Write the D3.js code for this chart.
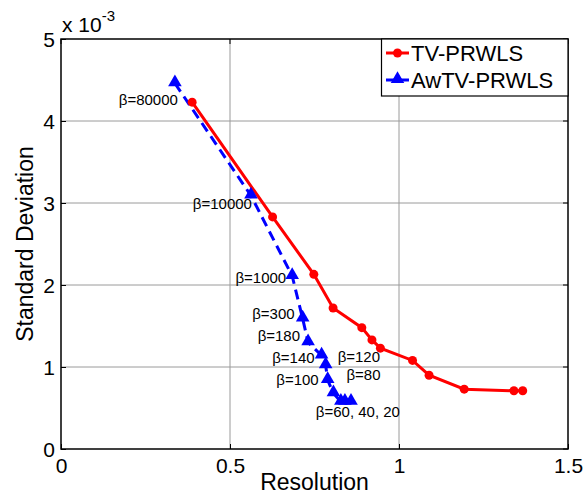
<!DOCTYPE html>
<html>
<head>
<meta charset="utf-8">
<script src="https://cdn.jsdelivr.net/npm/d3@7"></script>
<style>
  body { margin: 0; background: #fff; }
  svg { font-family: "Liberation Sans", Arial, Helvetica, sans-serif; }
</style>
</head>
<body>
<div id="vis-container"></div>
<script>
// width and height
const w = 584
const h = 498
const margin = { top: 39, right: 16, bottom: 49, left: 61 };

// data (std values are in units of 1e-3)
const resTV = [0.388, 0.626, 0.748, 0.805, 0.890, 0.920, 0.945, 1.040, 1.089, 1.193, 1.340, 1.366];
const stdTV = [4.23, 2.83, 2.13, 1.72, 1.48, 1.33, 1.23, 1.08, 0.90, 0.73, 0.71, 0.71];
const resAwTV = [0.337, 0.562, 0.684, 0.715, 0.731, 0.771, 0.783, 0.789, 0.806, 0.828, 0.840, 0.858];
const stdAwTV = [4.46, 3.09, 2.11, 1.59, 1.30, 1.14, 1.02, 0.84, 0.68, 0.575, 0.575, 0.575];
const seriesNames = ["TV-PRWLS", "AwTV-PRWLS"];
const xTicks = [0, 0.5, 1, 1.5];
const yTicks = [0, 1, 2, 3, 4, 5];
// beta labels, attached to AwTV points (index into the arrays)
const betaLabels = ["β=80000", "β=10000", "β=1000", "β=300", "β=180", "β=140", "β=120", "β=100", "β=80", "β=60, 40, 20"];
const betaIndex = [0, 1, 2, 3, 4, 5, 6, 7, 8, 10];

const svg = d3.select("#vis-container")
    .append("svg")
    .attr("width", w)
    .attr("height", h);

const xScale = d3.scaleLinear().domain([0, 1.5]).range([margin.left, w - margin.right]);
const yScale = d3.scaleLinear().domain([0, 5]).range([h - margin.bottom, margin.top]);

// grid lines
svg.append("g").selectAll("line.gx")
    .data(xTicks.slice(1, -1))
    .enter().append("line")
    .attr("x1", d => xScale(d)).attr("x2", d => xScale(d))
    .attr("y1", yScale(0)).attr("y2", yScale(5))
    .attr("stroke", "#9a9a9a").attr("stroke-width", 1);
svg.append("g").selectAll("line.gy")
    .data(yTicks.slice(1, -1))
    .enter().append("line")
    .attr("x1", xScale(0)).attr("x2", xScale(1.5))
    .attr("y1", d => yScale(d)).attr("y2", d => yScale(d))
    .attr("stroke", "#9a9a9a").attr("stroke-width", 1);

// axes (ticks inward, like matlab)
const xAxis = d3.axisBottom(xScale).tickValues(xTicks).tickSizeInner(-5).tickSizeOuter(0).tickPadding(9).tickFormat(d3.format("~g"));
const yAxis = d3.axisLeft(yScale).tickValues(yTicks).tickSizeInner(-5).tickSizeOuter(0).tickPadding(6).tickFormat(d3.format("d"));

const gx = svg.append("g")
    .attr("transform", "translate(0," + yScale(0) + ")")
    .call(xAxis);
const gy = svg.append("g")
    .attr("transform", "translate(" + xScale(0) + ",0)")
    .call(yAxis);
[gx, gy].forEach(g => {
    g.select(".domain").remove();
    g.selectAll("line").attr("stroke", "#000");
    g.selectAll("text").style("font-size", "21px").attr("fill", "#000");
});
gy.selectAll("text").attr("dy", "0.36em");

// top and right ticks
svg.append("g").selectAll("line")
    .data(xTicks).enter().append("line")
    .attr("x1", d => xScale(d)).attr("x2", d => xScale(d))
    .attr("y1", yScale(5)).attr("y2", yScale(5) + 5)
    .attr("stroke", "#000");
svg.append("g").selectAll("line")
    .data(yTicks).enter().append("line")
    .attr("x1", xScale(1.5)).attr("x2", xScale(1.5) - 5)
    .attr("y1", d => yScale(d)).attr("y2", d => yScale(d))
    .attr("stroke", "#000");

// frame
svg.append("rect")
    .attr("x", xScale(0)).attr("y", yScale(5))
    .attr("width", xScale(1.5) - xScale(0))
    .attr("height", yScale(0) - yScale(5))
    .attr("fill", "none").attr("stroke", "#000").attr("stroke-width", 1.5);

// exponent label
const expo = svg.append("text")
    .attr("x", xScale(0) + 1).attr("y", 32)
    .style("font-size", "21px");
expo.append("tspan").text("x 10");
expo.append("tspan").attr("dy", -11).style("font-size", "15px").text("-3");

// axis titles
svg.append("text")
    .attr("x", (xScale(0) + xScale(1.5)) / 2)
    .attr("y", 490)
    .style("text-anchor", "middle")
    .style("font-size", "23px")
    .text("Resolution");
svg.append("text")
    .attr("transform", "translate(33," + (yScale(2.5)) + ") rotate(-90)")
    .style("text-anchor", "middle")
    .style("font-size", "23px")
    .text("Standard Deviation");

// lines
const tvData = resTV.map((r, i) => [r, stdTV[i]]);
const awData = resAwTV.map((r, i) => [r, stdAwTV[i]]);
const line = d3.line().x(d => xScale(d[0])).y(d => yScale(d[1]));

svg.append("path")
    .datum(tvData)
    .attr("d", line)
    .attr("fill", "none").attr("stroke", "#ff0000").attr("stroke-width", 3);
svg.append("path")
    .datum(awData)
    .attr("d", line)
    .attr("fill", "none").attr("stroke", "#0000ff").attr("stroke-width", 3)
    .attr("stroke-dasharray", "10,6");

const tri = d3.symbol().type(d3.symbolTriangle).size(80);

svg.selectAll(".dotTV")
    .data(tvData).enter().append("circle")
    .attr("class", "dotTV")
    .attr("cx", d => xScale(d[0])).attr("cy", d => yScale(d[1]))
    .attr("r", 4.5).attr("fill", "#ff0000");
svg.selectAll(".triAw")
    .data(awData).enter().append("path")
    .attr("class", "triAw")
    .attr("d", tri)
    .attr("transform", d => "translate(" + xScale(d[0]) + "," + (yScale(d[1]) - 1) + ")")
    .attr("fill", "#0000ff");

// beta annotations: offsets relative to the point they describe
const labelOffsets = [
    [3, 22, "end"],
    [1, 13, "end"],
    [-6, 7, "end"],
    [-8, 0, "end"],
    [-8, -1, "end"],
    [-7, 7, "end"],
    [12, -3, "start"],
    [-9, 5, "end"],
    [13, -13, "start"],
    [13, 15, "middle"]
];
svg.selectAll(".beta")
    .data(betaLabels).enter().append("text")
    .attr("class", "beta")
    .attr("x", (d, i) => xScale(resAwTV[betaIndex[i]]) + labelOffsets[i][0])
    .attr("y", (d, i) => yScale(stdAwTV[betaIndex[i]]) + labelOffsets[i][1])
    .style("text-anchor", (d, i) => labelOffsets[i][2])
    .style("font-size", "15px")
    .text(d => d);

// legend
const legend = svg.append("g");
legend.append("rect")
    .attr("x", 381.5).attr("y", yScale(5))
    .attr("width", xScale(1.5) - 381.5).attr("height", 57)
    .attr("fill", "#fff").attr("stroke", "#000").attr("stroke-width", 1.2);
const rows = legend.selectAll(".legrow")
    .data(seriesNames).enter().append("g")
    .attr("transform", (d, i) => "translate(386," + (53 + i * 27) + ")");
rows.append("line")
    .attr("x1", 0).attr("x2", 23)
    .attr("stroke", (d, i) => i === 0 ? "#ff0000" : "#0000ff")
    .attr("stroke-width", 3);
rows.filter((d, i) => i === 0).append("circle")
    .attr("cx", 11.5).attr("r", 4.5).attr("fill", "#ff0000");
rows.filter((d, i) => i === 1).append("path")
    .attr("d", tri)
    .attr("transform", "translate(11.5,-1)")
    .attr("fill", "#0000ff");
rows.append("text")
    .attr("x", 25).attr("dy", "0.36em")
    .style("font-size", "22px")
    .text(d => d);
</script>
</body>
</html>
